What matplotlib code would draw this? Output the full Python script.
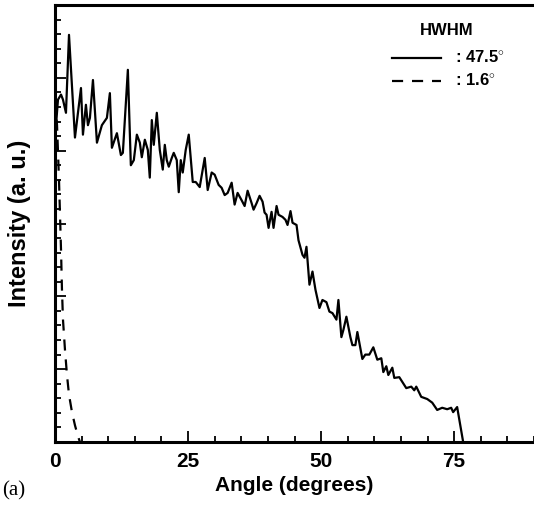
import matplotlib
matplotlib.use('Agg')
import matplotlib.pyplot as plt
from matplotlib.lines import Line2D
from matplotlib.ticker import MultipleLocator, NullFormatter

angle_wide = [0.19, 0.56, 1.13, 1.50, 2.06, 2.63, 3.75, 4.88, 5.25, 5.81, 6.19, 6.56,
              7.13, 7.88, 8.81, 9.75, 10.31, 10.69, 11.63, 12.38, 12.75, 13.69, 14.25,
              14.81, 15.38, 15.94, 16.31, 16.88, 17.44, 17.81, 18.19, 18.56, 19.13,
              19.69, 20.25, 20.63, 21.00, 21.38, 21.94, 22.31, 22.88, 23.25, 23.63,
              24.00, 24.56, 25.13, 25.88, 26.44, 27.19, 27.75, 28.13, 28.69, 29.44,
              30.00, 30.75, 31.31, 31.88, 32.44, 33.19, 33.75, 34.31, 35.06, 35.63,
              36.19, 36.94, 37.31, 37.88, 38.44, 39.00, 39.38, 39.75, 40.13, 40.69,
              41.06, 41.63, 42.00, 42.75, 43.31, 43.69, 44.25, 44.63, 45.38, 45.75,
              46.50, 46.88, 47.25, 47.81, 48.38, 48.94, 49.69, 50.25, 51.00, 51.56,
              52.13, 52.88, 53.25, 53.81, 54.19, 54.75, 55.50, 55.88, 56.44, 56.81,
              57.38, 57.75, 58.31, 59.06, 59.81, 60.56, 61.31, 61.69, 62.25, 62.63,
              63.38, 63.75, 64.69, 66.00, 66.94, 67.50, 67.88, 68.81, 69.94, 70.88,
              71.81, 72.75, 73.69, 74.44, 74.81, 75.56, 76.69]
intensity_wide = [4.35, 4.70, 4.77, 4.70, 4.52, 5.59, 4.18, 4.86, 4.22, 4.63, 4.35, 4.45,
                  4.97, 4.11, 4.35, 4.45, 4.79, 4.04, 4.24, 3.94, 3.97, 5.11, 3.80,
                  3.87, 4.22, 4.11, 3.91, 4.15, 4.01, 3.63, 4.42, 4.08, 4.52,
                  4.01, 3.74, 4.08, 3.87, 3.78, 3.90, 3.97, 3.87, 3.43, 3.87,
                  3.70, 4.01, 4.22, 3.57, 3.57, 3.50, 3.74, 3.90, 3.46, 3.70,
                  3.67, 3.53, 3.49, 3.39, 3.42, 3.56, 3.26, 3.42, 3.32, 3.24,
                  3.45, 3.28, 3.19, 3.28, 3.38, 3.30, 3.15, 3.12, 2.94, 3.16,
                  2.94, 3.24, 3.12, 3.09, 3.05, 2.98, 3.17, 3.01, 2.98, 2.77,
                  2.57, 2.53, 2.68, 2.16, 2.34, 2.09, 1.84, 1.95, 1.92, 1.79,
                  1.77, 1.68, 1.95, 1.44, 1.54, 1.72, 1.44, 1.33, 1.33, 1.51,
                  1.29, 1.14, 1.20, 1.20, 1.30, 1.13, 1.15, 0.96, 1.04, 0.92,
                  1.02, 0.88, 0.89, 0.74, 0.76, 0.71, 0.76, 0.62, 0.59, 0.54,
                  0.44, 0.47, 0.45, 0.47, 0.41, 0.48, 0.00]

# Narrow profile (HWHM 1.6 deg)
angle_narrow = [0.0, 0.38, 0.75, 0.94, 1.13, 1.31, 1.50, 1.88, 2.25, 2.63, 3.19, 3.75, 4.31, 4.69]
intensity_narrow = [4.70, 4.35, 3.60, 3.12, 2.64, 2.09, 1.68, 1.26, 0.92, 0.65, 0.41, 0.23, 0.08, 0.0]

x_ticks = [0, 25, 50, 75]
legend_title = 'HWHM'
legend_labels = [': 47.5$^{\\circ}$', ': 1.6$^{\\circ}$']

plt.rcParams['font.family'] = ['Liberation Sans', 'DejaVu Sans']
plt.rcParams['mathtext.fontset'] = 'custom'
plt.rcParams['mathtext.rm'] = 'Liberation Sans:bold'

fig = plt.figure(figsize=(5.34, 5.09), dpi=100)
ax = fig.add_axes([55 / 534, 67 / 509, 479 / 534, 437 / 509])

ax.plot(angle_wide, intensity_wide, color='black', lw=1.6)
ax.plot(angle_narrow, intensity_narrow, color='black', lw=1.6, dashes=(5, 4))

ax.set_xlim(0, 90)
ax.set_ylim(0, 6)
ax.set_xticks(x_ticks)
ax.xaxis.set_minor_locator(MultipleLocator(5))
ax.yaxis.set_major_locator(MultipleLocator(1))
ax.yaxis.set_minor_locator(MultipleLocator(0.2))
ax.yaxis.set_major_formatter(NullFormatter())

ax.tick_params(which='both', direction='in', width=1.3)
ax.tick_params(which='major', length=8)
ax.tick_params(which='minor', length=4)
ax.tick_params(axis='x', which='major', pad=7, labelsize=15)
for lab in ax.get_xticklabels():
    lab.set_fontweight('bold')

for side in ['left', 'bottom', 'top']:
    ax.spines[side].set_linewidth(2.2)
ax.spines['right'].set_visible(False)

ax.set_xlabel('Angle (degrees)', fontsize=15, fontweight='bold', labelpad=4)
ax.set_ylabel('Intensity (a. u.)', fontsize=17, fontweight='bold', labelpad=14)

# legend drawn by hand, as in the original
ax.text(0.818, 0.942, legend_title, transform=ax.transAxes, ha='center', va='center',
        fontsize=12, fontweight='bold')
ax.add_line(Line2D([0.703, 0.806], [0.879, 0.879], transform=ax.transAxes,
                   color='black', lw=1.6))
ax.add_line(Line2D([0.703, 0.806], [0.826, 0.826], transform=ax.transAxes,
                   color='black', lw=1.6, dashes=(5, 4)))
ax.text(0.835, 0.879, legend_labels[0], transform=ax.transAxes, ha='left', va='center',
        fontsize=12, fontweight='bold')
ax.text(0.835, 0.826, legend_labels[1], transform=ax.transAxes, ha='left', va='center',
        fontsize=12, fontweight='bold')

fig.text(2 / 534, 1 - 491 / 509, '(a)', fontsize=15, family='Liberation Serif',
         ha='left', va='center')

fig.savefig('out.png', dpi=100, facecolor='white')
